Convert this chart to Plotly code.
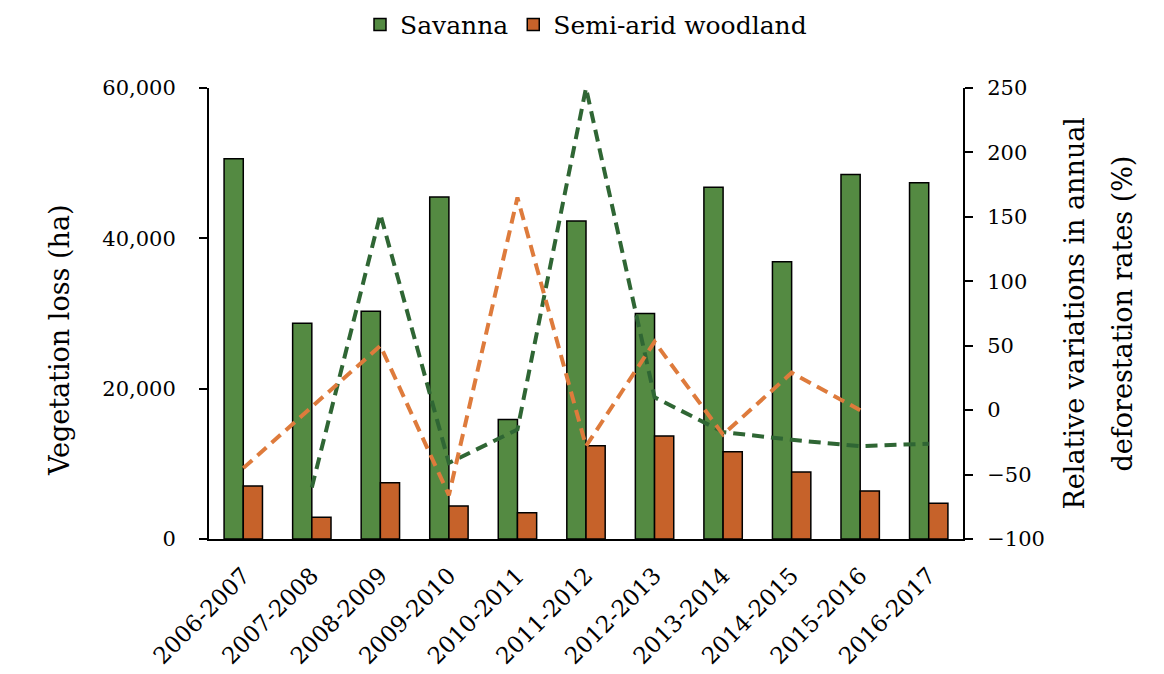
import plotly.graph_objects as go

periods = ["2006-2007", "2007-2008", "2008-2009", "2009-2010", "2010-2011", "2011-2012",
           "2012-2013", "2013-2014", "2014-2015", "2015-2016", "2016-2017"]
savanna_loss = [50600, 28700, 30300, 45500, 15900, 42300, 30000, 46800, 36900, 48500, 47400]
woodland_loss = [7050, 2900, 7500, 4400, 3500, 12400, 13700, 11600, 8900, 6400, 4750]
savanna_var = [None, -60, 152, -41, -15, 250, 10, -17, -23, -28, -26]
woodland_var = [-45, 3, 50, -66, 165, -28, 53, -19, 29, 0, None]

FONT = "DejaVu Serif"
BAR_GREEN = "#548A42"
BAR_ORANGE = "#C6622A"
LINE_GREEN = "#2F6634"
LINE_ORANGE = "#DE7B3C"

fig = go.Figure()
fig.add_trace(go.Bar(x=periods, y=savanna_loss, name="Savanna",
                     marker=dict(color=BAR_GREEN, line=dict(color="black", width=1.5))))
fig.add_trace(go.Bar(x=periods, y=woodland_loss, name="Semi-arid woodland",
                     marker=dict(color=BAR_ORANGE, line=dict(color="black", width=1.5))))
fig.add_trace(go.Scatter(x=periods, y=savanna_var, yaxis="y2", mode="lines", showlegend=False,
                         line=dict(color=LINE_GREEN, width=4, dash="12px,7px"), connectgaps=False))
fig.add_trace(go.Scatter(x=periods, y=woodland_var, yaxis="y2", mode="lines", showlegend=False,
                         line=dict(color=LINE_ORANGE, width=4, dash="12px,7px"), connectgaps=False))

fig.update_layout(
    width=1156, height=666,
    margin=dict(l=201, r=201, t=80, b=135, autoexpand=False),
    paper_bgcolor="white", plot_bgcolor="white",
    font=dict(family=FONT, size=21, color="black"),
    barmode="group", bargap=0.44, bargroupgap=0.0,
    legend=dict(orientation="h", x=0.5, xanchor="center", y=1.14, yanchor="middle",
                font=dict(size=25, family=FONT), traceorder="normal"),
    xaxis=dict(showline=True, linecolor="black", linewidth=2, ticks="", tickangle=-45,
               tickfont=dict(size=23), showgrid=False, zeroline=False, automargin=False,
               ticklabelstandoff=12),
    yaxis=dict(range=[0, 60000], tickvals=[0, 20000, 40000, 60000], tickformat=",",
               showline=True, linecolor="black", linewidth=2, ticks="outside", ticklen=8,
               tickwidth=2, tickcolor="black", showgrid=False, zeroline=False, automargin=False,
               tickfont=dict(size=21), ticklabelstandoff=19),
    yaxis2=dict(range=[-100, 250], tickvals=[-100, -50, 0, 50, 100, 150, 200, 250],
                overlaying="y", side="right", showline=True, linecolor="black", linewidth=2,
                ticks="outside", ticklen=8, tickwidth=2, tickcolor="black", showgrid=False,
                zeroline=False, tickfont=dict(size=21), ticklabelstandoff=10, automargin=False),
    annotations=[
        dict(text="Vegetation loss (ha)", xref="paper", yref="paper", x=(59 - 209) / 754, y=0.441,
             xanchor="center", yanchor="middle", textangle=-90, showarrow=False,
             font=dict(size=27, family=FONT)),
        dict(text="Relative variations in annual", xref="paper", yref="paper", x=(1074 - 209) / 754,
             y=0.5, xanchor="center", yanchor="middle", textangle=-90, showarrow=False,
             font=dict(size=27, family=FONT)),
        dict(text="deforestation rates (%)", xref="paper", yref="paper", x=(1122 - 209) / 754,
             y=0.5, xanchor="center", yanchor="middle", textangle=-90, showarrow=False,
             font=dict(size=27, family=FONT)),
    ],
)

fig.write_html("out.html")
